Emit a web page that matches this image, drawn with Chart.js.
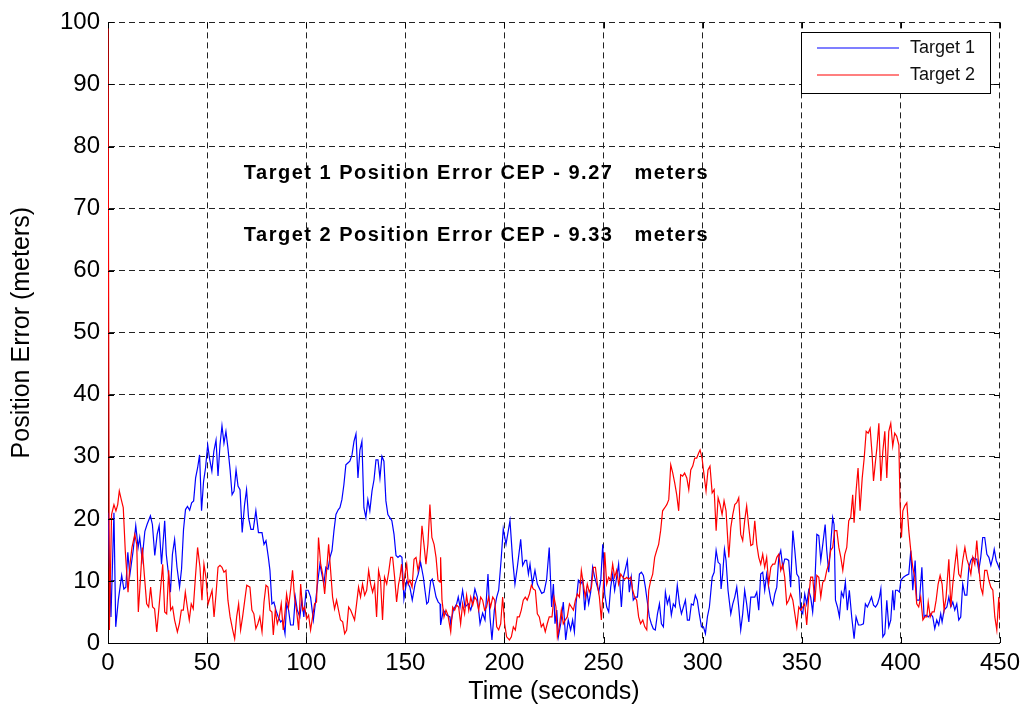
<!DOCTYPE html>
<html>
<head>
<meta charset="utf-8">
<script src="https://cdn.jsdelivr.net/npm/chart.js@4.4.1/dist/chart.umd.min.js"></script>
<style>
  body { margin: 0; background: #fff; }
  canvas { display: block; }
</style>
</head>
<body>
<canvas id="chart" width="1026" height="707"></canvas>
<script>
// values (time in seconds, error in meters)
const blueT = [0,1.5,3,3.9,5.2,6.9,8,9,10,11,12.7,14,15.2,16,17.2,18.6,19.7,21.4,22.4,23.6,24.8,25.8,27,28.6,29.4,30.3,31.5,32.5,33.6,34.8,36.1,37.1,38.1,39.1,40.1,41.2,42.2,43.2,44.2,45.2,46.2,47.2,48.2,49.2,50.3,51.2,52.4,53.4,54.5,55.5,56.5,57.5,58.5,59.5,60.5,61.6,62.6,63.6,64.6,65.6,66.6,67.7,68.9,69.9,70.9,72.1,73.3,74.6,75.9,77.7,78.7,79.7,80.9,81.7,82.7,83.7,84.7,85.9,87.1,88.1,89.3,90.1,91.1,92.1,93.5,94.5,95.5,96.8,97.8,98.8,99.9,101,102.2,103.6,104.7,105.7,106.9,107.9,108.9,109.9,111,112,113,114,115,116.2,117,118,119,120,121,122,123.1,124.1,125.1,126.1,127.1,128.1,129.1,130.1,131.1,132.1,133.2,134.2,135.2,136.2,137.2,138.2,139.2,140.2,141.2,142.2,143.2,144.3,145.3,146.3,147.3,148.3,149.3,150.7,152.3,153.5,154.9,156.5,157.7,159.1,159.9,160.8,161.6,162.8,163.6,164.5,165.5,166.6,167.5,167.8,169.2,170.8,172.5,172.9,174.2,175.9,176.7,177.6,178.9,180.1,181.8,183,184,185.1,186.3,187.7,189,190.2,191.7,192.7,193.7,194.9,196.1,197.1,198.3,199.4,200.8,202.8,204.1,205.3,206.5,208.2,209.2,210.4,211.2,212.1,212.9,214.1,215.4,216.6,218.8,220,221.3,222.6,223.8,224.7,225.5,226.4,227.2,228.4,229.7,230.9,232.2,233.4,234.4,235.3,236.1,237.3,238.5,239.5,240.5,241.5,242.5,243.5,244.5,245.5,246.5,247.6,248.6,249.6,250.6,251.6,252.6,253.6,254.6,255.6,256.6,257.6,259,260,261,262,263,264,265,266.1,267.1,268.1,269.1,270.1,271.1,272.1,273.1,274.1,275.1,276.1,277.2,278.2,279.2,280.2,281.2,282.2,283.2,284.2,285.2,286.2,287.2,288.3,289.3,290.3,291.3,292.3,293.3,294.3,295.3,296.3,297.3,298.3,299.4,300.4,301.4,302.4,303.4,304.8,305.8,306.8,307.8,308.8,309.3,310.1,311,311.8,312.8,314.2,315.2,316.2,317.2,318.2,319.2,320.2,321.2,322.2,323.3,324.3,325.3,326.3,327.3,328.3,329.3,330.3,331.3,332.3,333.3,334.4,335.4,336.4,337.4,338.4,339.4,340.4,341.4,342.4,343.4,344.4,345.5,346.5,347.5,348.5,349.5,350.5,351.5,352.5,353.5,354.5,355.5,356.6,357.6,358.6,359.6,360.6,361.8,362.6,363.6,364.6,365.6,366.3,367,368,369,370,371,372,373,374,375.2,376.4,377.4,378.6,379.8,381.1,382.1,383.1,384.2,385.2,386.2,387.2,388.2,389.2,389.9,390.9,391.9,392.9,393.9,394.9,395.9,396.6,397.3,398.3,399.3,400,401.3,402.7,404,405,406,407.2,408,409.4,410.6,411.7,412.7,413.9,415.1,416.1,417.1,418.1,419.1,420.1,420.8,421.8,423.2,424.2,425.2,426.2,427.2,428.2,429.2,430.2,431.2,432.3,433.3,434.3,435.3,436.3,437.3,438.3,439.3,440.3,441.3,442.3,443.4,444.4,445.4,446.4,447.1,448.1,449.1,450];
const blueV = [21,4.2,21,2.6,6.9,10.9,8.7,9,14.6,10.9,14.9,18.9,15.4,17,13.5,18,19.1,20.5,19.1,14.1,17.5,18.9,12.7,19.7,14.3,11.7,8.2,14.3,16.7,12.2,9,11.9,18.3,21.5,22,21.4,22.6,22.9,26.6,28.2,30.3,21.3,26,28.2,31.9,29.8,27.7,30.9,32.7,26.9,31.9,35,32.2,34.1,31.4,27.9,23.9,24.5,27.9,25.3,24.7,17.8,22.3,24.7,20.2,18.3,18.3,21.3,17.8,17.8,15.9,16.5,13.8,11.7,6.3,6.6,5.3,4.2,3.4,3.7,1.5,6.3,5.3,2.9,2.9,7.4,5.3,4.2,6.9,4.2,8.5,8.5,7.4,3.7,6.6,9.5,12.7,11.1,9.5,12.2,11.9,13.8,14.9,18.1,20.7,21.5,21.8,23.1,25.5,28.7,29,29.3,30.3,32.5,33.7,26.6,31.1,32.5,21.8,20.2,23.1,21.3,24.5,26.3,29.5,29.5,26.6,30.1,29.3,22.9,20.7,20.2,19.7,17.5,14.1,13.8,14.1,13.8,7.1,10,9,6.9,9.5,11.1,13,10.6,8.5,6.3,6.6,10,10.3,9,7.4,6.6,6.3,2.9,5.3,4.5,4.2,3.1,5.3,6.3,7.4,5.8,8.5,5.8,6.3,5.3,6.6,8.7,7.4,3.1,4.8,3.7,11.1,4.2,0.5,5.3,7.4,8.5,13.3,18.4,15.9,19.7,13.6,9.5,12.2,16.7,12.5,13.3,13.3,11.1,12.7,9.5,11.7,9.5,8,8.2,10.3,15.4,5.8,9.5,3.1,5.3,1,3.1,6.6,0.5,3.7,2.1,3.7,1.8,6.3,10.1,9.5,10.1,5.3,8.5,6.3,8.2,12.2,10.6,9.5,8.2,10.1,15.9,7.9,5.8,5,9,11.1,8.5,10.6,12.7,5.8,10.6,11.9,13.3,8.2,10.6,6.9,7.4,7.4,11.1,11.4,10.9,9,6.6,4.2,3.1,2.3,2.1,4.7,6.3,3.1,2.6,8.2,6.3,7.4,4.5,6.3,5.8,9.3,6.3,4.7,5.8,6.9,3.7,3.7,6.3,6.1,7.7,6.9,4.7,2.6,2.6,1.5,4.2,5.8,10.6,11.4,14.9,13,12.7,8.7,11.1,15.1,13.3,8.5,4.7,6.3,7.4,9,5.8,2.1,4.7,8.5,6.3,3.4,7.4,7.4,7.4,8.2,5.3,11.1,11.4,8.5,11.1,9,6.9,6.1,7.9,9,13.8,14.9,12.2,13.5,13.5,13.3,9,18.1,14.9,11.1,10.6,5.3,4.7,7.9,6.3,8.5,7.4,5,9.5,17.5,17.3,13.3,15.9,19.1,14.9,11.4,15.9,20.2,19.1,6.9,5.8,4.2,8.2,7.4,9.8,5.3,8.5,4.2,0.7,4.2,2.9,2.9,3.1,6.3,5.8,6.6,7.4,6.1,5.8,6.3,7.4,8.7,1,1.5,6.9,2.6,3.7,8.5,5.3,8.5,8.5,8.2,10.1,10.6,10.9,11.1,14.9,8.5,13.3,6.9,6.9,12.2,4.2,4.5,4.2,4.7,4.2,2.3,3.7,2.9,4.7,3.4,5.3,5.8,7.4,5.8,6.6,5.3,6.3,3.7,4.2,9.5,7.7,7.7,12.2,13.3,13.8,13.5,13.5,11.7,13.8,17,17,14.3,13.8,12.5,13.8,15.1,13.3,12.5,11.7];

const redT = [0,0.7,1.8,3,4,4.9,5.7,6.7,7.7,8.7,10.1,11.1,12.1,13.5,14.5,15.3,16.1,17.3,18.3,19.5,20.5,21.5,22.5,23.5,24.6,25.6,26.6,27.6,28.6,29.6,30.6,31.6,32.6,33.6,35,36,37,38,39,40,41,42,43,44.1,45.2,46.4,47.4,48.4,49.4,50.5,51.5,52.5,53.5,54.5,55.5,56.5,57.5,58.5,59.5,60.5,61.6,62.9,63.9,64.9,65.9,66.9,67.9,69,70,71.6,72.6,73.6,74.6,75.6,76.6,77.7,78.7,79.7,80.7,81.7,82.7,83.4,84.4,85.4,86.4,87.4,88.4,89.4,90.1,91.1,92.1,93.1,94.1,95.1,96.2,97.2,98.2,99.2,100.2,101.2,102.2,103.2,104.2,105.2,106.2,107.3,108.3,109.3,110.3,111.3,112.3,113.3,114.3,115.3,116.3,117.3,118.4,119.4,120.4,121.4,122.4,123.4,124.4,125.4,126.4,127.4,128.4,129.5,130.5,131.5,132.5,133.5,134.5,135.5,136.5,137.5,138.5,139.5,140.6,141.6,142.6,143.6,144.6,145.6,146.6,147.3,148.1,149,149.8,150.7,151.5,152.3,153.4,154.4,155.4,156.4,157.4,158.4,159.4,160.4,161.4,162.4,163.4,164.5,165.5,166.5,167.5,167.8,168.5,169.5,170.5,171.5,172.9,173.9,174.9,175.9,176.9,177.9,178.9,179.9,180.9,182,183,184,185,186,187,188,189,190,191,192,193,194.1,195.1,196.1,197.1,198.1,199.1,200.1,201.1,202.5,203.5,204.5,205.5,206.5,207.5,208.5,209.5,210.5,211.5,212.6,213.6,214.6,215.6,216.6,217.6,218.6,219.6,220.6,221.6,222.6,224,225,226,226.7,227.7,228.7,229.7,230.7,231.7,232.8,233.8,234.8,235.8,236.8,237.8,238.8,239.8,240.8,241.8,242.8,243.9,244.9,245.9,246.9,247.9,248.9,249.9,250.6,251.6,252.6,253.6,254.6,255.6,256.6,257.6,258.7,259.7,260.7,261.7,262.7,263.7,264.7,265.7,266.7,267.7,268.7,269.8,270.8,271.8,272.8,273.8,274.8,275.8,276.8,277.8,278.8,279.8,280.9,281.9,282.9,283.9,284.9,285.9,286.9,287.9,288.9,289.9,290.9,292,293,294,295,296,297,298,298.7,299.7,300.7,301.7,302.7,303.7,304.8,305.8,306.8,307.8,308.8,309.8,310.8,311.8,313.2,314.2,315.2,316.2,317.2,318.2,319.2,320.2,321.2,322.2,323.3,324.3,325.3,326.3,327.3,328.3,329.3,330.3,331.3,332.3,333.3,334.4,335.4,336.4,337.4,338.4,339.4,340.4,341.4,342.4,343.4,344.4,345.5,346.5,347.5,348.5,349.5,350.5,351.5,352.5,353.5,354.5,355.5,356.6,357.6,358.6,359.6,360.6,361.6,362.6,363.6,364.6,365.6,366.6,367.7,368.7,369.7,370.7,371.7,372.7,373.7,374.7,375.7,376.4,377.4,378.4,379.4,380.5,381.5,382.5,383.5,384.5,385.5,386.2,387.2,387.9,388.9,389.9,390.9,391.9,392.9,393.9,394.9,395.9,396.9,397.9,399,399.6,400.3,401,402,403,404,405,406,407,408,409,410,411.1,412.1,413.1,413.8,414.8,415.8,416.8,417.8,418.8,419.8,420.8,421.8,422.8,424.2,425.2,426.2,427.2,428.2,429.2,430.2,431.2,432.3,433.3,434.3,435.3,436.3,437.3,438.3,439.3,440.3,441.3,442.3,443.4,444.4,445.4,446.4,447.4,448.4,449.4,450];
const redV = [100,2.1,20.7,22.3,21.3,22.3,24.5,23.1,21.8,14.9,8.2,12.7,15.4,17.5,15.9,5,9,15.4,11.1,6.3,5.8,9,5.8,5.5,1.8,5.3,9,12.7,5,4.7,11.7,5.3,5.8,3.7,1.8,3.1,5.3,5.3,8.2,5.8,3.7,6.3,5.5,10.6,15.4,12.2,6.9,12.7,10.6,6.3,7.4,8.5,4.2,7.9,12.2,12.5,12.2,11.4,11.7,6.9,4.2,2.1,0.7,4.2,6.3,2.1,4.2,6.9,9.3,9,5.3,4.7,2.3,3.1,4.2,1.8,6.6,9.3,9,5.3,5,1.3,5.3,3.1,4.2,6.3,2.1,5.3,7.9,5.8,8.5,11.7,7.4,5.3,2.1,9.5,5.3,5.8,3.9,4.5,2.1,4.2,6.3,6.6,17,12.7,11.1,7.9,11.7,15.9,11.7,7.4,5.5,6.9,5.3,3.7,3.4,1.5,2.1,5.8,5.3,4.5,3.7,6.3,9,7.4,9.5,7.7,8.5,11.7,9.5,8.2,9.5,4.2,11.7,10.1,3.7,10.6,9.5,11.4,13.8,13.8,10.6,6.6,9.5,10.6,12.7,8.5,11.1,12.7,9.5,10.1,9,13.5,13.8,11.7,13.3,18.9,15.9,12.7,15.9,22.3,17,15.9,13.8,10.1,9.8,13.8,6.9,4.2,5.3,4.5,1.8,5.8,5.3,6.1,5.8,3.1,6.3,4.7,7.7,5.3,7.4,6.1,7.4,6.9,5.3,7.4,6.9,5.3,5.8,7.4,5.8,7.4,6.9,2.6,2.1,3.1,7.4,3.1,1,0.5,1,2.6,2.1,4.2,4.2,5.3,6.9,7.4,6.9,7.9,9.3,8.7,8.5,4.7,4.2,2.6,3.1,1.8,3.1,4.2,4.2,7.4,5.8,1,2.6,5.3,3.1,3.7,4.2,6.3,5.8,5.3,6.9,7.9,7.4,11.7,9.5,7.4,9.5,8.2,9,12.2,12.2,9.5,7.4,3.7,9,14.6,9.5,10.6,10.1,12.7,10.6,11.7,9.5,11.1,10.6,10.3,10.6,10.3,10.6,8.5,7.4,6.9,4.2,3.1,3.7,2.6,2.1,8.5,10.1,11.1,13.8,14.9,15.9,18.1,21.3,21.8,22.3,23.1,28.7,27.4,25.8,23.9,21.3,27.1,26.9,27.4,26.6,24.7,27.9,28.5,29.8,29.8,30.6,31.1,29.8,27.1,24.5,27.9,28.5,24.2,24.7,18.1,23.4,22.3,20.7,22.9,21.3,13.8,18.6,20.7,22.3,22.6,23.4,17.5,16.5,19.7,22.1,18.6,15.7,15.9,19.7,15.9,13.8,12.7,14.3,12.2,13.8,9.5,12.2,12.7,12.7,13.8,14.3,11.7,12.7,10.6,6.3,6.9,7.9,6.9,4.7,2.6,5.8,5.3,5.8,6.3,2.9,7.4,10.6,10.6,6.6,10.9,10.6,7.4,9.8,10.1,11.7,12.7,14.9,15.4,18.1,18.1,15.4,13.8,11.7,14.3,15.4,19.7,20.2,23.9,19.4,24.5,28.2,21.3,26.6,29.8,34.1,33.8,34.6,30.3,26.1,29.3,31.4,35.4,26.1,30.9,34.1,26.6,34.1,35.4,31.7,33.8,33.3,31.9,22.3,17,21.3,22.1,22.6,18.1,14.9,12.2,10.6,6.3,5.8,7.4,3.7,4.2,4.2,6.6,4.2,5,5,6.9,9.5,10.9,9.5,5.3,7.4,13.5,5.8,9.5,12.5,15.1,11.1,10.6,13.3,15.4,13.5,12.5,11.1,13.8,12.7,16.5,12.2,9,7.9,11.7,11.7,10.1,9,8.5,4.2,2.1,7.4,3.7];

const seriesNames = ['Target 1', 'Target 2'];
const seriesColors = ['#0000ff', '#ff0000'];
const xTicks = [0, 450, 50];   // min, max, step
const yTicks = [0, 100, 10];
const notes = [
    { x: 68.5, y: 75.6, text: 'Target 1 Position Error CEP - 9.27   meters' },
    { x: 68.5, y: 65.6, text: 'Target 2 Position Error CEP - 9.33   meters' }
];

const FONT = '"Liberation Sans", Arial, Helvetica, sans-serif';

const toPoints = (ts, vs) => ts.map((t, i) => ({ x: t, y: vs[i] }));

// inward tick marks on all four sides, like the original plot box
const boxTicks = {
    id: 'boxTicks',
    afterDatasetsDraw(chart) {
        const { ctx, chartArea: a, scales: { x, y } } = chart;
        const len = 6;
        ctx.save();
        ctx.strokeStyle = '#000';
        ctx.lineWidth = 1;
        ctx.beginPath();
        x.ticks.forEach(t => {
            const px = Math.round(x.getPixelForValue(t.value)) + 0.5;
            ctx.moveTo(px, a.bottom); ctx.lineTo(px, a.bottom - len);
            ctx.moveTo(px, a.top); ctx.lineTo(px, a.top + len);
        });
        y.ticks.forEach(t => {
            const py = Math.round(y.getPixelForValue(t.value)) + 0.5;
            ctx.moveTo(a.left, py); ctx.lineTo(a.left + len, py);
            ctx.moveTo(a.right, py); ctx.lineTo(a.right - len, py);
        });
        ctx.stroke();
        ctx.restore();
    }
};

// the two bold CEP lines inside the plot
const cepNotes = {
    id: 'cepNotes',
    afterDatasetsDraw(chart) {
        const { ctx, scales: { x, y } } = chart;
        ctx.save();
        ctx.fillStyle = '#000';
        ctx.font = 'bold 20px ' + FONT;
        ctx.letterSpacing = '1.5px';
        ctx.textBaseline = 'middle';
        ctx.textAlign = 'left';
        notes.forEach(n => ctx.fillText(n.text, x.getPixelForValue(n.x), y.getPixelForValue(n.y)));
        ctx.restore();
    }
};

// boxed legend in the top right corner
const boxLegend = {
    id: 'boxLegend',
    afterDatasetsDraw(chart) {
        const { ctx } = chart;
        const bx = 801, by = 32, bw = 189, bh = 61;
        ctx.save();
        ctx.fillStyle = '#fff';
        ctx.fillRect(bx, by, bw, bh);
        ctx.strokeStyle = '#000';
        ctx.lineWidth = 1;
        ctx.strokeRect(bx + 0.5, by + 0.5, bw, bh);
        ctx.font = '18px ' + FONT;
        ctx.textBaseline = 'middle';
        chart.data.datasets.forEach((ds, i) => {
            const ly = by + 16 + i * 27;
            ctx.strokeStyle = seriesColors[i];
            ctx.lineWidth = 1.2;
            ctx.beginPath();
            ctx.moveTo(bx + 16, ly); ctx.lineTo(bx + 98, ly);
            ctx.stroke();
            ctx.fillStyle = '#111';
            ctx.fillText(ds.label, bx + 109, ly);
        });
        ctx.restore();
    }
};

new Chart(document.getElementById('chart'), {
    type: 'line',
    data: {
        datasets: [
            { label: seriesNames[0], data: toPoints(blueT, blueV), borderColor: seriesColors[0], borderWidth: 1.2, pointRadius: 0, tension: 0, order: 1 },
            { label: seriesNames[1], data: toPoints(redT, redV), borderColor: seriesColors[1], borderWidth: 1.2, pointRadius: 0, tension: 0, order: 0 }
        ]
    },
    options: {
        responsive: false,
        animation: false,
        layout: { padding: { left: 0, top: 18, right: 26, bottom: 0 } },
        plugins: { legend: { display: false }, tooltip: { enabled: false } },
        scales: {
            x: {
                type: 'linear',
                min: xTicks[0], max: xTicks[1],
                ticks: { stepSize: xTicks[2], color: '#000', padding: 6, maxRotation: 0, font: { family: FONT, size: 24 } },
                grid: { color: '#222', lineWidth: 1, drawTicks: false },
                border: { display: true, color: '#000', width: 1, dash: [6, 4] },
                title: { display: true, text: 'Time (seconds)', color: '#000', padding: { top: 0, bottom: 0 }, font: { family: FONT, size: 25 } },
                afterFit: s => { s.height = 64; }
            },
            y: {
                min: yTicks[0], max: yTicks[1],
                ticks: { stepSize: yTicks[2], color: '#000', padding: 8, font: { family: FONT, size: 24 } },
                grid: { color: '#222', lineWidth: 1, drawTicks: false },
                border: { display: true, color: '#000', width: 1, dash: [6, 4] },
                title: { display: true, text: 'Position Error (meters)', color: '#000', padding: { top: 7, bottom: 0 }, font: { family: FONT, size: 25 } },
                afterFit: s => { s.width = 108; }
            }
        }
    },
    plugins: [boxTicks, cepNotes, boxLegend]
});
</script>
</body>
</html>
